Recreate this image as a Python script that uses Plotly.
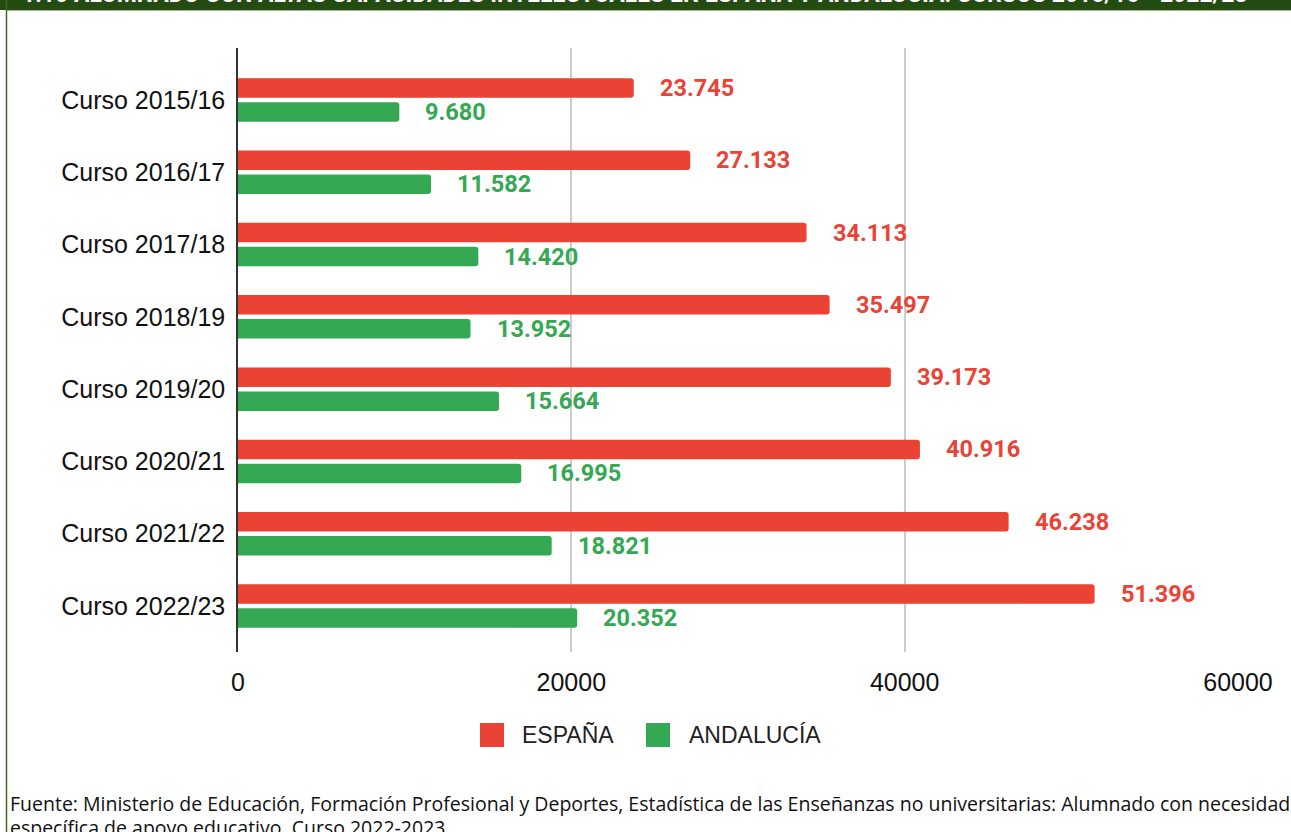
import plotly.graph_objects as go

categories = ["Curso 2015/16", "Curso 2016/17", "Curso 2017/18", "Curso 2018/19",
              "Curso 2019/20", "Curso 2020/21", "Curso 2021/22", "Curso 2022/23"]
espana = [23745, 27133, 34113, 35497, 39173, 40916, 46238, 51396]
andalucia = [9680, 11582, 14420, 13952, 15664, 16995, 18821, 20352]
series_names = ["ESPAÑA", "ANDALUCÍA"]
x_ticks = [0, 20000, 40000, 60000]

RED = "#EA4335"
GREEN = "#34A853"
DARKGREEN = "#244B12"

W, H = 1291, 832
L, R, T, B = 238, 53, 48, 180
PW, PH = W - L - R, H - T - B


def px_x(p):
    return (p - L) / PW


def px_y(p):
    return (H - B - p) / PH


def fmt(v):
    return f"{v:,}".replace(",", ".")


fig = go.Figure()
fig.add_trace(go.Bar(y=categories, x=espana, orientation="h", name=series_names[0],
                     marker=dict(color=RED, line=dict(width=0)), showlegend=False,
                     hoverinfo="x+y"))
fig.add_trace(go.Bar(y=categories, x=andalucia, orientation="h", name=series_names[1],
                     marker=dict(color=GREEN, line=dict(width=0)), showlegend=False,
                     hoverinfo="x+y"))

annotations = []
for cat, v in zip(categories, espana):
    annotations.append(dict(x=v, y=cat, xref="x", yref="y", text=fmt(v), showarrow=False,
                            xanchor="left", yanchor="middle", xshift=24, yshift=12,
                            font=dict(family="Roboto", size=23.5, color=RED, weight="bold")))
for cat, v in zip(categories, andalucia):
    annotations.append(dict(x=v, y=cat, xref="x", yref="y", text=fmt(v), showarrow=False,
                            xanchor="left", yanchor="middle", xshift=24, yshift=-12,
                            font=dict(family="Roboto", size=23.5, color=GREEN, weight="bold")))

# manual legend
legend_items = [(series_names[0], RED, 480, 520), (series_names[1], GREEN, 646, 687)]
shapes = []
for name, col, sx, tx in legend_items:
    shapes.append(dict(type="rect", xref="paper", yref="paper",
                       x0=px_x(sx), x1=px_x(sx + 24), y0=px_y(747), y1=px_y(723),
                       fillcolor=col, line=dict(width=0)))
    annotations.append(dict(x=px_x(tx), y=px_y(735), xref="paper", yref="paper", text=name,
                            showarrow=False, xanchor="left", yanchor="middle",
                            font=dict(family="Liberation Sans", size=23, color="#222222")))

# header band
shapes.append(dict(type="rect", xref="paper", yref="paper", x0=px_x(0), x1=px_x(W),
                   y0=px_y(10), y1=px_y(-2), fillcolor=DARKGREEN, line=dict(width=0), layer="above"))
shapes.append(dict(type="line", xref="paper", yref="paper", x0=px_x(7), x1=px_x(W),
                   y0=px_y(10.5), y1=px_y(10.5), line=dict(color="#9DB88C", width=1)))
# left border
shapes.append(dict(type="line", xref="paper", yref="paper", x0=px_x(6.5), x1=px_x(6.5),
                   y0=px_y(0), y1=px_y(H + 2), line=dict(color="#3C6A1E", width=1.5)))

annotations.append(dict(x=px_x(20), y=px_y(10), xref="paper", yref="paper",
                        text="1.10 ALUMNADO CON ALTAS CAPACIDADES INTELECTUALES EN ESPAÑA Y ANDALUCÍA. CURSOS 2015/16 - 2022/23",
                        showarrow=False, xanchor="left", yanchor="bottom",
                        font=dict(family="Roboto", size=23, color="white", weight="bold")))

source_lines = ["Fuente: Ministerio de Educación, Formación Profesional y Deportes, Estadística de las "
                "Enseñanzas no universitarias: Alumnado con necesidad",
                "específica de apoyo educativo. Curso 2022-2023."]
for line, yc in zip(source_lines, [803, 827]):
    annotations.append(dict(x=px_x(8), y=px_y(yc), xref="paper", yref="paper", text=line,
                            showarrow=False, xanchor="left", yanchor="middle", align="left",
                            font=dict(family="Open Sans", size=19.5, color="#111111")))

fig.update_layout(
    width=W, height=H,
    margin=dict(l=L, r=R, t=T, b=B, pad=0),
    paper_bgcolor="white", plot_bgcolor="white",
    barmode="group", bargap=0.336, bargroupgap=0.187, barcornerradius=3,
    showlegend=False,
    xaxis=dict(range=[0, 60000], tickvals=x_ticks, ticktext=[str(t) for t in x_ticks],
               showgrid=True, gridcolor="#CCCCCC", gridwidth=1.5, zeroline=False,
               showline=False, ticks="", ticklabelstandoff=13,
               tickfont=dict(family="Liberation Sans", size=25, color="#111111")),
    yaxis=dict(range=[7.636, -0.719], type="category", showgrid=False, zeroline=False,
               showline=True, linecolor="#333333", linewidth=1.5, ticks="",
               ticklabelstandoff=6,
               tickfont=dict(family="Liberation Sans", size=25, color="#111111")),
    annotations=annotations, shapes=shapes,
    font=dict(family="Liberation Sans"),
)

fig.write_html("out.html", config={"displayModeBar": False},
               post_script="document.body.style.margin='0';document.body.style.overflow='hidden';")
